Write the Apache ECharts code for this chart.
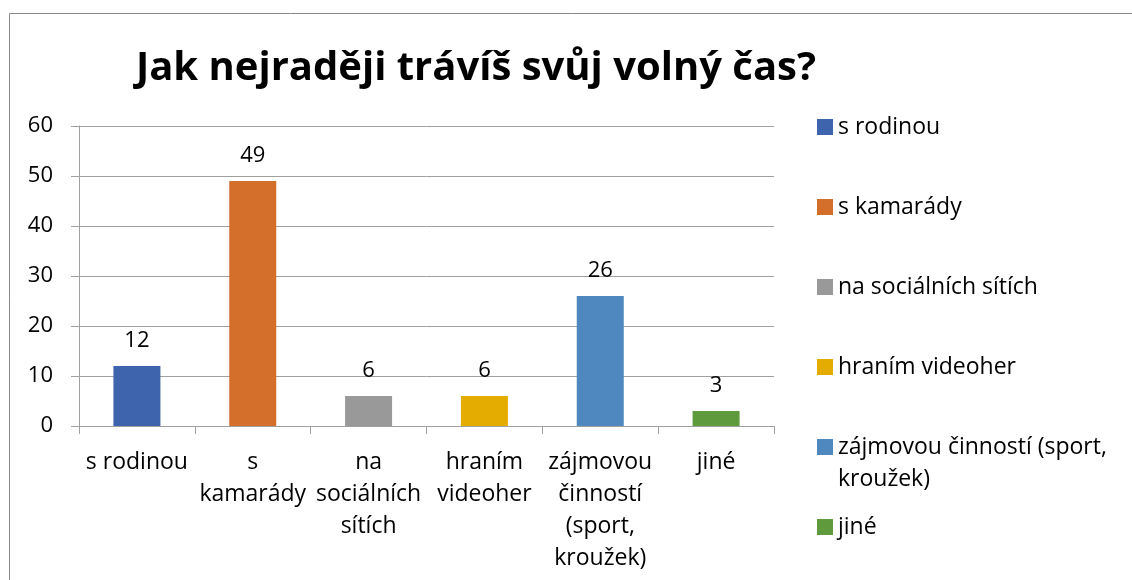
<!DOCTYPE html>
<html>
<head>
<meta charset="utf-8">
<script src="https://cdn.jsdelivr.net/npm/echarts@6/dist/echarts.min.js"></script>
<style>
  html, body { margin: 0; padding: 0; background: #fff; }
  #chart { width: 1132px; height: 580px; }
</style>
</head>
<body>
<div id="chart"></div>
<script>
var titleText = 'Jak nejraději trávíš svůj volný čas?';
var categories = ['s rodinou', 's kamarády', 'na sociálních sítích', 'hraním videoher', 'zájmovou činností (sport, kroužek)', 'jiné'];
var axisLabels = ['s rodinou', 's\nkamarády', 'na\nsociálních\nsítích', 'hraním\nvideoher', 'zájmovou\nčinností\n(sport,\nkroužek)', 'jiné'];
var legendLabels = ['s rodinou', 's kamarády', 'na sociálních sítích', 'hraním videoher', 'zájmovou činností (sport,\nkroužek)', 'jiné'];
var values = [12, 49, 6, 6, 26, 3];
var colors = ['#3E64AE', '#D46E2B', '#999999', '#E5AC00', '#4E88BE', '#5F9A3C'];
var yTicks = { min: 0, max: 60, interval: 10 };

var font = '"Open Sans", "Noto Sans", sans-serif';
var chart = echarts.init(document.getElementById('chart'));

var series = categories.map(function (name, i) {
  return {
    name: name,
    type: 'bar',
    barWidth: 47,
    barGap: '-100%',
    itemStyle: { color: colors[i] },
    label: {
      show: true,
      position: 'top',
      distance: 14,
      color: '#000',
      fontFamily: font,
      fontSize: 22
    },
    data: values.map(function (v, j) { return j === i ? v : null; })
  };
});

var option = {
  animation: false,
  color: colors,
  title: {
    text: titleText,
    left: 471,
    top: 44,
    textAlign: 'center',
    textStyle: { fontFamily: font, fontSize: 40, fontWeight: 'bold', color: '#000' }
  },
  legend: {
    orient: 'vertical',
    left: 812,
    top: 74,
    height: 560,
    itemWidth: 16,
    itemHeight: 16,
    itemGap: -16,
    icon: 'rect',
    data: categories,
    formatter: function (name) {
      var t = legendLabels[categories.indexOf(name)];
      return t.indexOf('\n') >= 0 ? '\n' + t : '\n' + t + '\n';
    },
    textStyle: { fontFamily: font, fontSize: 23, lineHeight: 32, color: '#000' }
  },
  grid: { left: 79, right: 358, top: 126, bottom: 154 },
  xAxis: {
    type: 'category',
    data: axisLabels,
    axisLine: { lineStyle: { color: '#A0A0A0' } },
    axisTick: { show: true, length: 8, lineStyle: { color: '#A0A0A0' } },
    axisLabel: { interval: 0, margin: 20, fontFamily: font, fontSize: 23, lineHeight: 32, color: '#000' }
  },
  yAxis: {
    type: 'value',
    min: yTicks.min,
    max: yTicks.max,
    interval: yTicks.interval,
    axisLine: { show: true, lineStyle: { color: '#A0A0A0' } },
    axisTick: { show: true, length: 8, lineStyle: { color: '#A0A0A0' } },
    splitLine: { lineStyle: { color: '#A0A0A0' } },
    axisLabel: { margin: 26, fontFamily: font, fontSize: 22, color: '#000' }
  },
  graphic: [{
    type: 'rect',
    shape: { x: 9.5, y: 13.5, width: 1140, height: 600 },
    style: { fill: null, stroke: '#888', lineWidth: 1 },
    silent: true
  }],
  series: series
};

chart.setOption(option);
</script>
</body>
</html>
